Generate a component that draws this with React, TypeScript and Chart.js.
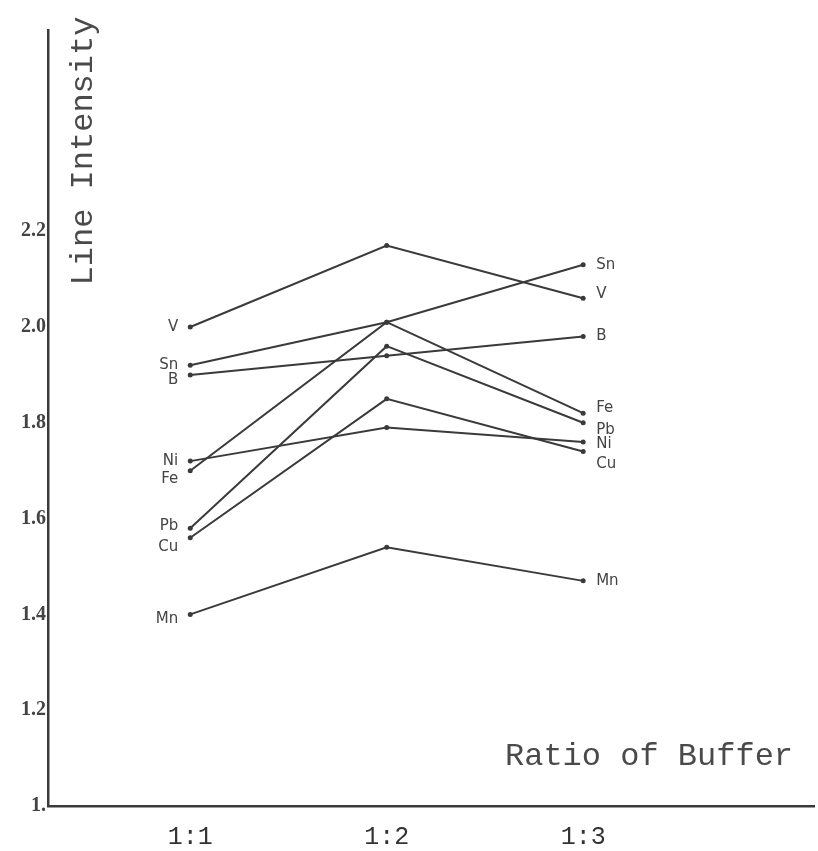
import React, { useEffect, useRef } from "react";
import { Chart, registerables } from "chart.js";

Chart.register(...registerables);

const ratioCategories = ["1:1", "1:2", "1:3"];
const ratioPositions = [1, 2, 3];

const vValues = [2.0, 2.17, 2.06];
const snValues = [1.92, 2.01, 2.13];
const bValues = [1.9, 1.94, 1.98];
const feValues = [1.7, 2.01, 1.82];
const pbValues = [1.58, 1.96, 1.8];
const niValues = [1.72, 1.79, 1.76];
const cuValues = [1.56, 1.85, 1.74];
const mnValues = [1.4, 1.54, 1.47];

const seriesNames = ["V", "Sn", "B", "Fe", "Pb", "Ni", "Cu", "Mn"];
const seriesValues = [vValues, snValues, bValues, feValues, pbValues, niValues, cuValues, mnValues];

const yTickValues = [1.0, 1.2, 1.4, 1.6, 1.8, 2.0, 2.2];
const yTickLabels = ["1.", "1.2", "1.4", "1.6", "1.8", "2.0", "2.2"];

// label nudges (pixels) for the element names at the ends of the lines
const leftLabelDy = [0, 0, 5, 8, -2, 0, 9, 5];
const rightLabelDy = [-4, 0, 0, -5, 7, 2, 13, 0];

const INK = "#3a3a3a";

const labelPlugin = {
  id: "elementLabels",
  afterDatasetsDraw(chart: any) {
    const ctx = chart.ctx;
    ctx.save();
    ctx.fillStyle = "#444";
    ctx.font = "15px 'DejaVu Sans'";
    ctx.textBaseline = "middle";
    chart.data.datasets.forEach((ds: any, i: number) => {
      const meta = chart.getDatasetMeta(i);
      const first = meta.data[0];
      const last = meta.data[meta.data.length - 1];
      ctx.textAlign = "right";
      ctx.fillText(ds.label, first.x - 12, first.y + leftLabelDy[i]);
      ctx.textAlign = "left";
      ctx.fillText(ds.label, last.x + 13, last.y + rightLabelDy[i]);
    });
    // axis titles
    ctx.fillStyle = "#4a4a4a";
    ctx.font = "32px 'Liberation Mono'";
    ctx.textAlign = "center";
    ctx.textBaseline = "middle";
    ctx.save();
    ctx.translate(84, 151);
    ctx.rotate(-Math.PI / 2);
    ctx.fillText("Line Intensity", 0, 0);
    ctx.restore();
    ctx.textAlign = "left";
    ctx.fillText("Ratio of Buffer", 505, 757);
    ctx.restore();
  },
};

export default function App() {
  const canvasRef = useRef<HTMLCanvasElement | null>(null);

  useEffect(() => {
    const canvas = canvasRef.current;
    if (!canvas) return;
    const chart = new Chart(canvas, {
      type: "line",
      data: {
        datasets: seriesNames.map((name, i) => ({
          label: name,
          data: seriesValues[i].map((v, j) => ({ x: ratioPositions[j], y: v })),
          borderColor: INK,
          backgroundColor: INK,
          borderWidth: 2,
          pointRadius: 2.5,
          pointBackgroundColor: INK,
          pointBorderWidth: 0,
          tension: 0,
          fill: false,
        })),
      },
      options: {
        responsive: false,
        animation: false,
        layout: { padding: { top: 30, left: 0, right: 0, bottom: 0 } },
        plugins: {
          legend: { display: false },
          tooltip: { enabled: false },
          title: { display: false },
        },
        scales: {
          x: {
            type: "linear",
            min: 0.276,
            max: 4.175,
            grid: { display: false, drawTicks: false },
            border: { display: true, color: INK, width: 2.5 },
            afterBuildTicks: (scale: any) => {
              scale.ticks = ratioPositions.map((v) => ({ value: v }));
            },
            afterFit: (scale: any) => {
              scale.height = 45;
            },
            ticks: {
              padding: 16,
              color: "#333",
              font: { family: "'Liberation Mono'", size: 25 },
              callback: (value: any) => {
                const idx = ratioPositions.indexOf(Number(value));
                return idx >= 0 ? ratioCategories[idx] : "";
              },
            },
          },
          y: {
            type: "linear",
            min: 1.0,
            max: 2.62,
            grid: { display: false, drawTicks: false },
            border: { display: true, color: INK, width: 2.5 },
            afterBuildTicks: (scale: any) => {
              scale.ticks = yTickValues.map((v) => ({ value: v }));
            },
            afterFit: (scale: any) => {
              scale.width = 48;
            },
            ticks: {
              padding: 2,
              color: "#444",
              font: { family: "'Liberation Serif'", size: 20, weight: "bold" },
              callback: (value: any) => {
                const idx = yTickValues.findIndex((t) => Math.abs(t - Number(value)) < 1e-6);
                return idx >= 0 ? yTickLabels[idx] : "";
              },
            },
          },
        },
      },
      plugins: [labelPlugin],
    });
    return () => chart.destroy();
  }, []);

  return (
    <div style={{ position: "absolute", left: 0, top: 0, width: 818, height: 851, background: "#fff" }}>
      <canvas ref={canvasRef} width={818} height={851} style={{ width: 818, height: 851, display: "block" }} />
    </div>
  );
}
